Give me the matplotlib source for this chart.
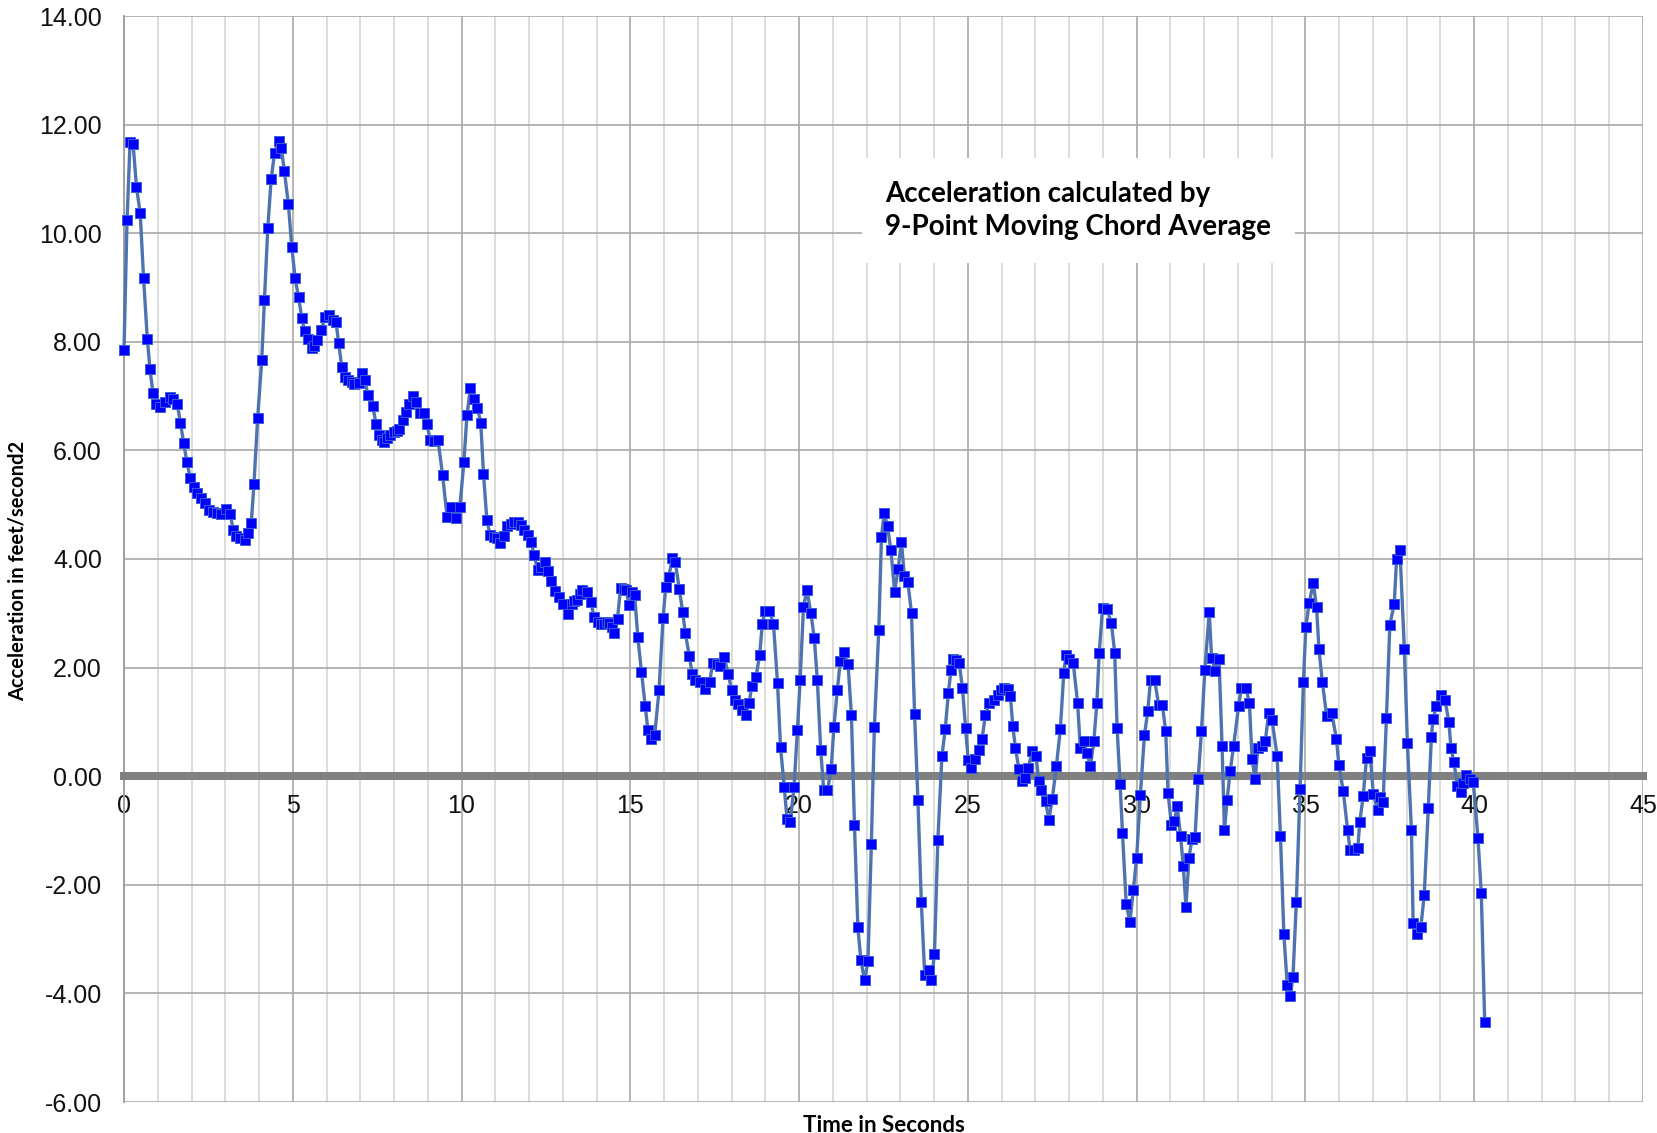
import matplotlib
matplotlib.use("Agg")
import matplotlib.pyplot as plt
from matplotlib.ticker import MultipleLocator, FormatStrFormatter

# Sample times (s) and 9-point moving chord average acceleration (ft/s^2)
time_s = [
    0.00, 0.09, 0.18, 0.27, 0.37, 0.48, 0.58, 0.69, 0.77, 0.86,
    0.96, 1.07, 1.20, 1.35, 1.45, 1.58, 1.67, 1.77, 1.86, 1.96,
    2.07, 2.17, 2.29, 2.41, 2.53, 2.65, 2.76, 2.88, 3.03, 3.15,
    3.23, 3.32, 3.44, 3.57, 3.67, 3.77, 3.85, 3.96, 4.08, 4.16,
    4.26, 4.36, 4.46, 4.58, 4.66, 4.75, 4.87, 4.97,
    5.07, 5.17, 5.27, 5.35, 5.45, 5.56, 5.64, 5.72, 5.84, 5.96,
    6.06, 6.18, 6.28, 6.36, 6.45, 6.55, 6.65, 6.74, 6.82, 6.97,
    7.06, 7.14, 7.22, 7.37, 7.47, 7.56, 7.64, 7.71, 7.80, 7.88,
    8.00, 8.08, 8.16, 8.26, 8.36, 8.45, 8.55, 8.65, 8.78, 8.88,
    8.97, 9.07, 9.19, 9.30, 9.44, 9.57, 9.70, 9.83, 9.95,
    10.07, 10.16, 10.26, 10.36, 10.47, 10.57, 10.65, 10.75, 10.85, 10.95,
    11.05, 11.15, 11.25, 11.34, 11.45, 11.56, 11.66, 11.76, 11.86, 11.96,
    12.06, 12.15, 12.25, 12.36, 12.47, 12.55, 12.64, 12.76, 12.89, 13.02,
    13.14, 13.26, 13.34, 13.41, 13.50, 13.58, 13.71, 13.83, 13.93, 14.03,
    14.12, 14.22, 14.30, 14.37, 14.45, 14.52, 14.62, 14.71, 14.80, 14.88,
    14.96, 15.05, 15.13, 15.22,
    15.33, 15.44, 15.52, 15.60, 15.72, 15.85, 15.97, 16.05, 16.14, 16.24,
    16.33, 16.45, 16.55, 16.63, 16.75, 16.83, 16.92, 17.07, 17.22, 17.35,
    17.44, 17.56, 17.66, 17.78, 17.90, 18.00, 18.10, 18.20, 18.30, 18.42,
    18.52, 18.60, 18.72, 18.83, 18.91, 18.99, 19.12, 19.24, 19.36, 19.45,
    19.56, 19.64, 19.74,
    19.85, 19.95, 20.03, 20.13, 20.23, 20.35, 20.45, 20.54, 20.64, 20.73,
    20.84, 20.95, 21.03, 21.13, 21.22, 21.32, 21.45, 21.55, 21.64, 21.74,
    21.83, 21.94, 22.04, 22.14, 22.23, 22.36, 22.44, 22.52, 22.62, 22.72,
    22.83, 22.93, 23.03, 23.12, 23.22, 23.33, 23.42, 23.52, 23.62, 23.72,
    23.84, 23.92, 24.01, 24.11, 24.23, 24.33, 24.42, 24.50, 24.57, 24.66,
    24.74, 24.84, 24.93, 25.01,
    25.10, 25.20, 25.32, 25.42, 25.52, 25.64, 25.77, 25.88, 25.98, 26.08,
    26.18, 26.26, 26.33, 26.41, 26.51, 26.61, 26.69, 26.79, 26.90, 27.02,
    27.10, 27.18, 27.30, 27.40, 27.50, 27.62, 27.74, 27.84, 27.91, 28.00,
    28.12, 28.25, 28.33, 28.43, 28.53, 28.63, 28.73, 28.82, 28.89, 28.99,
    29.12, 29.25, 29.35, 29.42, 29.51, 29.58, 29.69, 29.80, 29.90, 30.00,
    30.11, 30.23, 30.33, 30.41, 30.53, 30.65, 30.76, 30.86, 30.93,
    31.03, 31.12, 31.20, 31.30, 31.38, 31.46, 31.55, 31.64, 31.73, 31.82,
    31.92, 32.02, 32.15, 32.22, 32.33, 32.44, 32.53, 32.60, 32.68, 32.77,
    32.87, 33.02, 33.10, 33.24, 33.34, 33.42, 33.51, 33.59, 33.71, 33.81,
    33.91, 34.01, 34.16, 34.26, 34.36, 34.46, 34.55, 34.63, 34.73, 34.84,
    34.94, 35.01, 35.11, 35.23, 35.33, 35.40, 35.50, 35.63, 35.78, 35.92,
    35.99, 36.12, 36.25, 36.32, 36.45, 36.55, 36.61, 36.71, 36.81, 36.91,
    37.01, 37.14, 37.21, 37.30, 37.40, 37.50, 37.63, 37.70, 37.80, 37.93,
    38.02, 38.14, 38.19, 38.29, 38.42, 38.52, 38.64, 38.73, 38.78, 38.88,
    39.01, 39.13, 39.25, 39.31, 39.40, 39.50, 39.60, 39.68, 39.77, 39.87,
    39.97, 40.11, 40.21, 40.31,
]

accel = [
    7.85, 10.24, 11.68, 11.64, 10.85, 10.37, 9.17, 8.06, 7.49, 7.05,
    6.85, 6.80, 6.90, 6.98, 6.95, 6.85, 6.51, 6.13, 5.79, 5.50,
    5.33, 5.21, 5.12, 5.03, 4.90, 4.86, 4.85, 4.82, 4.92, 4.83,
    4.54, 4.42, 4.39, 4.35, 4.48, 4.66, 5.38, 6.60, 7.66, 8.77,
    10.10, 11.00, 11.48, 11.70, 11.56, 11.15, 10.53, 9.75,
    9.17, 8.82, 8.43, 8.20, 8.06, 7.88, 7.92, 8.03, 8.21, 8.46,
    8.49, 8.40, 8.37, 7.97, 7.54, 7.36, 7.30, 7.26, 7.23, 7.25,
    7.42, 7.30, 7.02, 6.81, 6.48, 6.28, 6.20, 6.16, 6.22, 6.28,
    6.34, 6.36, 6.40, 6.56, 6.71, 6.86, 7.00, 6.90, 6.69, 6.68,
    6.49, 6.20, 6.18, 6.20, 5.54, 4.78, 4.96, 4.75, 4.96,
    5.79, 6.65, 7.14, 6.95, 6.79, 6.50, 5.57, 4.71, 4.44, 4.41,
    4.38, 4.30, 4.42, 4.60, 4.65, 4.68, 4.68, 4.62, 4.53, 4.45,
    4.32, 4.07, 3.80, 3.86, 3.94, 3.78, 3.60, 3.41, 3.30, 3.17,
    2.99, 3.17, 3.22, 3.24, 3.35, 3.42, 3.39, 3.20, 2.93, 2.84,
    2.81, 2.81, 2.84, 2.82, 2.75, 2.63, 2.90, 3.46, 3.45, 3.42,
    3.15, 3.39, 3.33, 2.57,
    1.92, 1.29, 0.85, 0.68, 0.75, 1.58, 2.92, 3.49, 3.67, 4.01,
    3.95, 3.45, 3.03, 2.63, 2.21, 1.89, 1.77, 1.74, 1.61, 1.74,
    2.08, 2.06, 2.03, 2.19, 1.89, 1.58, 1.40, 1.33, 1.22, 1.12,
    1.35, 1.67, 1.82, 2.23, 2.81, 3.04, 3.04, 2.81, 1.72, 0.53,
    -0.20, -0.78, -0.84,
    -0.19, 0.85, 1.77, 3.12, 3.43, 3.00, 2.54, 1.77, 0.48, -0.26,
    -0.26, 0.14, 0.90, 1.58, 2.12, 2.29, 2.06, 1.12, -0.90, -2.78,
    -3.39, -3.76, -3.41, -1.24, 0.91, 2.69, 4.41, 4.84, 4.60, 4.16,
    3.39, 3.81, 4.32, 3.68, 3.58, 3.00, 1.15, -0.44, -2.31, -3.66,
    -3.57, -3.76, -3.27, -1.18, 0.37, 0.87, 1.53, 1.95, 2.15, 2.14,
    2.09, 1.62, 0.89, 0.30,
    0.15, 0.31, 0.48, 0.69, 1.13, 1.35, 1.40, 1.50, 1.58, 1.62,
    1.60, 1.48, 0.92, 0.52, 0.13, -0.09, -0.03, 0.15, 0.46, 0.37,
    -0.09, -0.26, -0.46, -0.80, -0.42, 0.18, 0.87, 1.90, 2.24, 2.16,
    2.09, 1.35, 0.52, 0.64, 0.42, 0.18, 0.64, 1.34, 2.27, 3.10,
    3.08, 2.82, 2.27, 0.89, -0.15, -1.05, -2.35, -2.68, -2.10, -1.50,
    -0.34, 0.76, 1.20, 1.78, 1.78, 1.32, 1.32, 0.83, -0.31,
    -0.90, -0.82, -0.55, -1.10, -1.65, -2.40, -1.50, -1.15, -1.12, -0.06,
    0.83, 1.96, 3.02, 2.18, 1.94, 2.16, 0.55, -1.00, -0.43, 0.09,
    0.55, 1.29, 1.63, 1.63, 1.34, 0.31, -0.06, 0.52, 0.56, 0.64,
    1.17, 1.03, 0.38, -1.10, -2.90, -3.85, -4.05, -3.70, -2.32, -0.23,
    1.74, 2.74, 3.19, 3.56, 3.11, 2.34, 1.74, 1.10, 1.16, 0.68,
    0.21, -0.27, -1.00, -1.35, -1.35, -1.32, -0.84, -0.37, 0.34, 0.46,
    -0.32, -0.63, -0.39, -0.48, 1.08, 2.79, 3.17, 4.00, 4.16, 2.34,
    0.61, -1.00, -2.71, -2.90, -2.77, -2.18, -0.58, 0.72, 1.06, 1.29,
    1.50, 1.41, 1.00, 0.52, 0.26, -0.18, -0.29, -0.12, 0.03, -0.06,
    -0.10, -1.13, -2.16, -4.52,
]

x_range = (0, 45)
y_range = (-6, 14)
note = "Acceleration calculated by\n9-Point Moving Chord Average"

plt.rcParams["font.family"] = ["Liberation Sans", "DejaVu Sans"]

W, H = 1657, 1133
fig = plt.figure(figsize=(W / 100, H / 100), dpi=100, facecolor="white")
ax = fig.add_axes([124 / W, 31 / H, 1519 / W, 1086 / H])

ax.set_xlim(*x_range)
ax.set_ylim(*y_range)

ax.xaxis.set_major_locator(MultipleLocator(5))
ax.xaxis.set_minor_locator(MultipleLocator(1))
ax.yaxis.set_major_locator(MultipleLocator(2))
ax.yaxis.set_major_formatter(FormatStrFormatter("%.2f"))

# spreadsheet-style grid: light 1 s lines, darker every 5 s
ax.set_axisbelow(True)
ax.grid(which="minor", axis="x", color="#d2d2d2", lw=1.1)
ax.grid(which="major", axis="x", color="#a8a8a8", lw=1.2)
ax.grid(which="major", axis="y", color="#a8a8a8", lw=1.2)

# the x axis sits on zero as a heavy grey bar
ax.spines["bottom"].set_position(("data", 0))
ax.spines["bottom"].set_color("#808080")
ax.spines["bottom"].set_linewidth(5.8)
ax.spines["bottom"].set_zorder(2.5)
ax.spines["left"].set_color("#a0a0a0")
ax.spines["left"].set_linewidth(1.4)
ax.spines["top"].set_visible(False)
ax.spines["right"].set_visible(False)

ax.tick_params(which="both", length=0, labelsize=18, colors="#111111")
ax.tick_params(axis="x", pad=13)
ax.tick_params(axis="y", pad=16)

ax.plot(time_s, accel, color="#4f72b0", lw=2.4, marker="s", ms=7,
        mfc="#0000ff", mec="#3a5cd6", mew=0.7, zorder=3, clip_on=False)

ax.text(22.55, 10.42, note, family="Lato", weight="bold", fontsize=20,
        ha="left", va="center", linespacing=1.3, color="black", zorder=4,
        bbox=dict(boxstyle="square,pad=0.85", fc="white", ec="none"))

fig.text(883.5 / W, 1 - 1125 / H, "Time in Seconds", family="Lato",
         weight="bold", fontsize=16, ha="center", va="center")
fig.text(18 / W, 1 - 571 / H, "Acceleration in feet/second2", family="Lato",
         weight="bold", fontsize=14.5, rotation=90, ha="center", va="center")

fig.savefig("out.png", dpi=100, facecolor="white")
